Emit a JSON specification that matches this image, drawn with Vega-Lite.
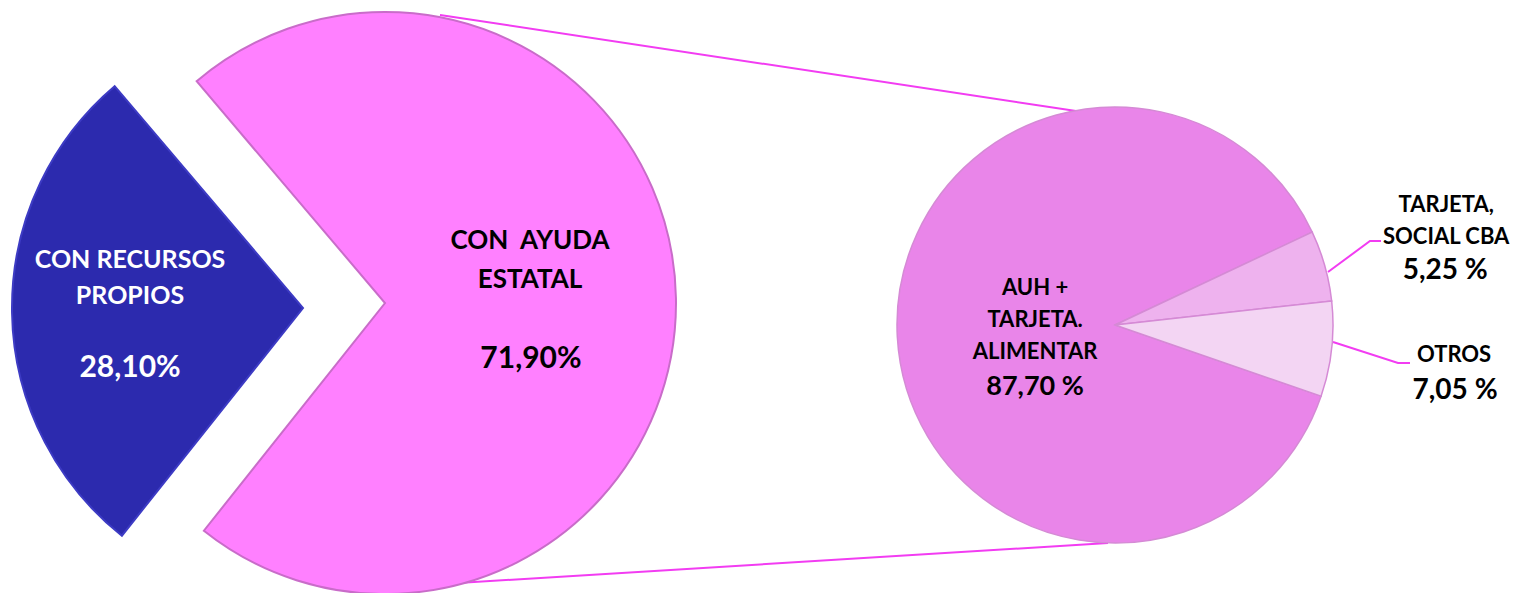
{
  "$schema": "https://vega.github.io/schema/vega-lite/v6.json",
  "width": 1521,
  "height": 593,
  "autosize": {"type": "fit", "contains": "padding"},
  "padding": 0,
  "background": "#ffffff",
  "config": {"view": {"stroke": null}, "font": "Lato"},
  "datasets": {
    "general": [
      {"grupo": "CON RECURSOS PROPIOS", "etiqueta": "CON RECURSOS\nPROPIOS", "porcentaje": 28.10, "texto": "28,10%", "orden": 1},
      {"grupo": "CON AYUDA ESTATAL", "etiqueta": "CON \u00a0AYUDA\nESTATAL", "porcentaje": 71.90, "texto": "71,90%", "orden": 2}
    ],
    "ayuda": [
      {"grupo": "AUH + TARJETA. ALIMENTAR", "etiqueta": "AUH +\nTARJETA.\nALIMENTAR", "porcentaje": 87.70, "texto": "87,70 %", "orden": 1},
      {"grupo": "TARJETA, SOCIAL CBA", "etiqueta": "TARJETA,\nSOCIAL CBA", "porcentaje": 5.25, "texto": "5,25 %", "orden": 2},
      {"grupo": "OTROS", "etiqueta": "OTROS", "porcentaje": 7.05, "texto": "7,05 %", "orden": 3}
    ],
    "guias": [
      {"guia": "conector superior", "paso": 1, "x": 440, "y": 15},
      {"guia": "conector superior", "paso": 2, "x": 1076, "y": 111},
      {"guia": "conector inferior", "paso": 1, "x": 458, "y": 583},
      {"guia": "conector inferior", "paso": 2, "x": 1108, "y": 543},
      {"guia": "guia tarjeta", "paso": 1, "x": 1328, "y": 272},
      {"guia": "guia tarjeta", "paso": 2, "x": 1370, "y": 241},
      {"guia": "guia tarjeta", "paso": 3, "x": 1381, "y": 241},
      {"guia": "guia otros", "paso": 1, "x": 1333, "y": 342},
      {"guia": "guia otros", "paso": 2, "x": 1398, "y": 363},
      {"guia": "guia otros", "paso": 3, "x": 1410, "y": 363}
    ]
  },
  "layer": [
    {
      "data": {"name": "guias"},
      "mark": {"type": "line", "color": "#F23CF2", "strokeWidth": 2},
      "encoding": {
        "x": {"field": "x", "type": "quantitative", "axis": null, "scale": {"domain": [0, 1521], "range": [0, 1521], "nice": false, "zero": false}},
        "y": {"field": "y", "type": "quantitative", "axis": null, "scale": {"domain": [0, 593], "range": [0, 593], "nice": false, "zero": false}},
        "detail": {"field": "guia", "type": "nominal"},
        "order": {"field": "paso", "type": "quantitative"}
      }
    },
    {
      "data": {"name": "general"},
      "encoding": {
        "x": {"field": "grupo", "type": "nominal", "axis": null, "scale": {"type": "point", "domain": ["CON RECURSOS PROPIOS", "CON AYUDA ESTATAL"], "range": [303, 385], "padding": 0}},
        "y": {"field": "grupo", "type": "nominal", "axis": null, "scale": {"type": "point", "domain": ["CON RECURSOS PROPIOS", "CON AYUDA ESTATAL"], "range": [308, 303], "padding": 0}},
        "theta": {"field": "porcentaje", "type": "quantitative", "stack": true, "scale": {"range": [3.8135, 10.0967]}},
        "order": {"field": "orden", "type": "quantitative"}
      },
      "layer": [
        {
          "mark": {"type": "arc", "radius": 291, "strokeWidth": 2},
          "encoding": {
            "color": {"field": "grupo", "type": "nominal", "legend": null, "scale": {"domain": ["CON RECURSOS PROPIOS", "CON AYUDA ESTATAL"], "range": ["#2C2AAE", "#FF80FF"]}},
            "stroke": {"field": "grupo", "type": "nominal", "legend": null, "scale": {"domain": ["CON RECURSOS PROPIOS", "CON AYUDA ESTATAL"], "range": ["#3D3BC4", "#C96CC9"]}}
          }
        },
        {
          "mark": {"type": "text", "radius": 173, "dy": -51, "align": "center", "baseline": "middle", "fontSize": 25, "fontWeight": "bold", "lineHeight": 36, "lineBreak": "\n", "color": "#ffffff"},
          "encoding": {"text": {"condition": {"test": "datum.orden === 1", "field": "etiqueta"}, "value": ""}}
        },
        {
          "mark": {"type": "text", "radius": 173, "dy": 57, "align": "center", "baseline": "middle", "fontSize": 30, "fontWeight": "bold", "color": "#ffffff"},
          "encoding": {"text": {"condition": {"test": "datum.orden === 1", "field": "texto"}, "value": ""}}
        },
        {
          "mark": {"type": "text", "radius": 145, "dy": -60, "align": "center", "baseline": "middle", "fontSize": 26, "fontWeight": "bold", "lineHeight": 39, "lineBreak": "\n", "color": "#000000"},
          "encoding": {"text": {"condition": {"test": "datum.orden === 2", "field": "etiqueta"}, "value": ""}}
        },
        {
          "mark": {"type": "text", "radius": 146, "dy": 58, "align": "center", "baseline": "middle", "fontSize": 30, "fontWeight": "bold", "color": "#000000"},
          "encoding": {"text": {"condition": {"test": "datum.orden === 2", "field": "texto"}, "value": ""}}
        }
      ]
    },
    {
      "data": {"name": "ayuda"},
      "encoding": {
        "x": {"field": "grupo", "type": "nominal", "axis": null, "scale": {"type": "point", "domain": ["AUH + TARJETA. ALIMENTAR", "TARJETA, SOCIAL CBA", "OTROS"], "range": [1115, 1115], "padding": 0}},
        "y": {"field": "grupo", "type": "nominal", "axis": null, "scale": {"type": "point", "domain": ["AUH + TARJETA. ALIMENTAR", "TARJETA, SOCIAL CBA", "OTROS"], "range": [325, 325], "padding": 0}},
        "theta": {"field": "porcentaje", "type": "quantitative", "stack": true, "scale": {"range": [1.9033, 8.1865]}},
        "order": {"field": "orden", "type": "quantitative"}
      },
      "layer": [
        {
          "mark": {"type": "arc", "radius": 218, "stroke": "#D58AD5", "strokeWidth": 1.5},
          "encoding": {
            "color": {"field": "grupo", "type": "nominal", "legend": null, "scale": {"domain": ["AUH + TARJETA. ALIMENTAR", "TARJETA, SOCIAL CBA", "OTROS"], "range": ["#E985E9", "#EEB2EE", "#F3D5F3"]}}
          }
        },
        {
          "mark": {"type": "text", "radius": 80, "dy": -41, "align": "center", "baseline": "middle", "fontSize": 22, "fontWeight": "bold", "lineHeight": 32, "lineBreak": "\n", "color": "#000000"},
          "encoding": {"text": {"condition": {"test": "datum.orden === 1", "field": "etiqueta"}, "value": ""}}
        },
        {
          "mark": {"type": "text", "radius": 80, "dy": 58, "align": "center", "baseline": "middle", "fontSize": 27, "fontWeight": "bold", "color": "#000000"},
          "encoding": {"text": {"condition": {"test": "datum.orden === 1", "field": "texto"}, "value": ""}}
        },
        {
          "mark": {"type": "text", "radius": 313, "dx": 30, "dy": -35, "align": "center", "baseline": "middle", "fontSize": 22, "fontWeight": "bold", "lineHeight": 32, "lineBreak": "\n", "color": "#000000"},
          "encoding": {"text": {"condition": {"test": "datum.orden === 2", "field": "etiqueta"}, "value": ""}}
        },
        {
          "mark": {"type": "text", "radius": 313, "dx": 28, "dy": -5, "align": "center", "baseline": "middle", "fontSize": 22, "fontWeight": "bold", "color": "#000000"},
          "encoding": {"text": {"condition": {"test": "datum.orden === 3", "field": "etiqueta"}, "value": ""}}
        },
        {
          "mark": {"type": "text", "radius": 313, "dx": 29, "dy": 31, "align": "center", "baseline": "middle", "fontSize": 28, "fontWeight": "bold", "color": "#000000"},
          "encoding": {"text": {"condition": {"test": "datum.orden > 1", "field": "texto"}, "value": ""}}
        }
      ]
    }
  ],
  "resolve": {"scale": {"x": "independent", "y": "independent", "theta": "independent", "color": "independent", "stroke": "independent"}}
}
